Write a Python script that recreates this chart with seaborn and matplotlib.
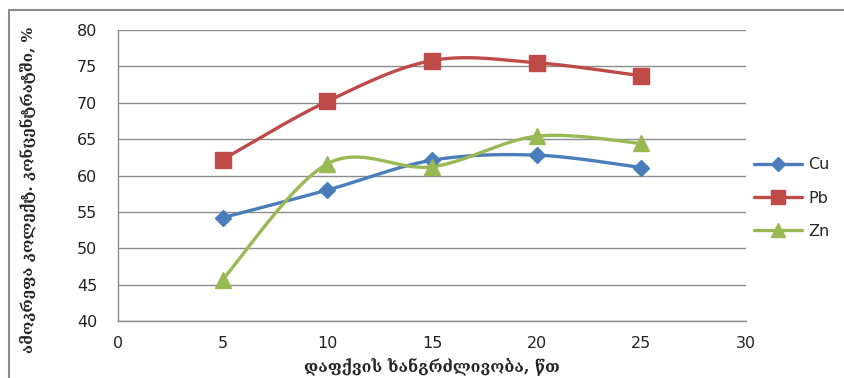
import numpy as np
import pandas as pd
import matplotlib
matplotlib.use("Agg")
import matplotlib.pyplot as plt
from matplotlib.lines import Line2D
import seaborn as sns

# Grinding time, minutes
time_min = [5, 10, 15, 20, 25]
# Recovery into the collective concentrate, %
cu = [54.2, 58.0, 62.1, 62.8, 61.1]
pb = [62.2, 70.2, 75.8, 75.5, 73.7]
zn = [45.7, 61.6, 61.2, 65.4, 64.4]

series_names = ["Cu", "Pb", "Zn"]
colors = {"Cu": "#4A7EBB", "Pb": "#BE4B48", "Zn": "#98B954"}
markers = {"Cu": "D", "Pb": "s", "Zn": "^"}
msizes = {"Cu": 8, "Pb": 11, "Zn": 11}

y_ticks = [40, 45, 50, 55, 60, 65, 70, 75, 80]
x_ticks = [0, 5, 10, 15, 20, 25, 30]

y_label = "ამოკრეფა კოლექტ. კონცენტრატში, %"
x_label = "დაფქვის ხანგრძლივობა, წთ"


def smooth_curve(x, y, n=40):
    """Cubic Bezier through the points, control points from neighbouring slopes."""
    x = np.asarray(x, float)
    y = np.asarray(y, float)
    pts = np.column_stack([x, y])
    out = []
    for i in range(len(pts) - 1):
        p0 = pts[i - 1] if i > 0 else pts[i]
        p1 = pts[i]
        p2 = pts[i + 1]
        p3 = pts[i + 2] if i + 2 < len(pts) else pts[i + 1]
        c1 = p1 + (p2 - p0) / 6.0
        c2 = p2 - (p3 - p1) / 6.0
        t = np.linspace(0, 1, n)[:, None]
        seg = ((1 - t) ** 3) * p1 + 3 * ((1 - t) ** 2) * t * c1 + 3 * (1 - t) * t ** 2 * c2 + t ** 3 * p2
        out.append(seg if i == 0 else seg[1:])
    seg = np.vstack(out)
    return seg[:, 0], seg[:, 1]


points = pd.DataFrame({
    "time": time_min * 3,
    "value": cu + pb + zn,
    "metal": ["Cu"] * 5 + ["Pb"] * 5 + ["Zn"] * 5,
})

sns.set_style("white")
plt.rcParams["font.family"] = ["DejaVu Sans"]

fig = plt.figure(figsize=(8.44, 3.78), dpi=100)
ax = fig.add_axes([0.1398, 0.1508, 0.8839 - 0.1398, 0.9206 - 0.1508])

for name, vals in zip(series_names, [cu, pb, zn]):
    sx, sy = smooth_curve(time_min, vals)
    curve = pd.DataFrame({"time": sx, "value": sy})
    sns.lineplot(data=curve, x="time", y="value", ax=ax, color=colors[name],
                 linewidth=2.4, sort=False, estimator=None, legend=False, zorder=3)
    sub = points[points["metal"] == name]
    ax.plot(sub["time"], sub["value"], linestyle="none", marker=markers[name],
            markersize=msizes[name], color=colors[name], zorder=4)

ax.set_xlim(0, 30)
ax.set_ylim(40, 80)
ax.set_xticks(x_ticks)
ax.set_yticks(y_ticks)
ax.yaxis.grid(True, color="#8C8C8C", linewidth=1.0)
ax.xaxis.grid(False)
for s in ["top", "right"]:
    ax.spines[s].set_visible(False)
for s in ["left", "bottom"]:
    ax.spines[s].set_color("#8C8C8C")
    ax.spines[s].set_linewidth(1.0)
ax.tick_params(axis="both", which="both", direction="out", length=5, width=1,
               color="#8C8C8C", labelsize=11.5, labelcolor="#222222")
ax.tick_params(axis="y", pad=10)
ax.tick_params(axis="x", pad=6)

ax.set_xlabel(x_label, fontsize=11.5, fontweight="bold", family=["DejaVu Serif", "DejaVu Sans"],
              labelpad=4)
ax.set_ylabel(y_label, fontsize=11, fontweight="bold", family=["DejaVu Serif", "DejaVu Sans"])
ax.yaxis.set_label_coords(-0.13, 0.45)

handles = [Line2D([0], [0], color=colors[n], marker=markers[n], markersize=msizes[n] - 1,
                  linewidth=2.4) for n in series_names]
fig.legend(handles, series_names, loc="center left", bbox_to_anchor=(0.876, 0.476),
           frameon=False, fontsize=11.5, handlelength=3.0, labelspacing=1.15,
           handletextpad=0.4)

# Chart border on the top and left edges
fig.add_artist(Line2D([9 / 844, 1.0], [1 - 10 / 378, 1 - 10 / 378],
                      transform=fig.transFigure, color="#8C8C8C", linewidth=1.5))
fig.add_artist(Line2D([9 / 844, 9 / 844], [0.0, 1 - 10 / 378],
                      transform=fig.transFigure, color="#8C8C8C", linewidth=1.5))

fig.savefig("out.png", dpi=100)
